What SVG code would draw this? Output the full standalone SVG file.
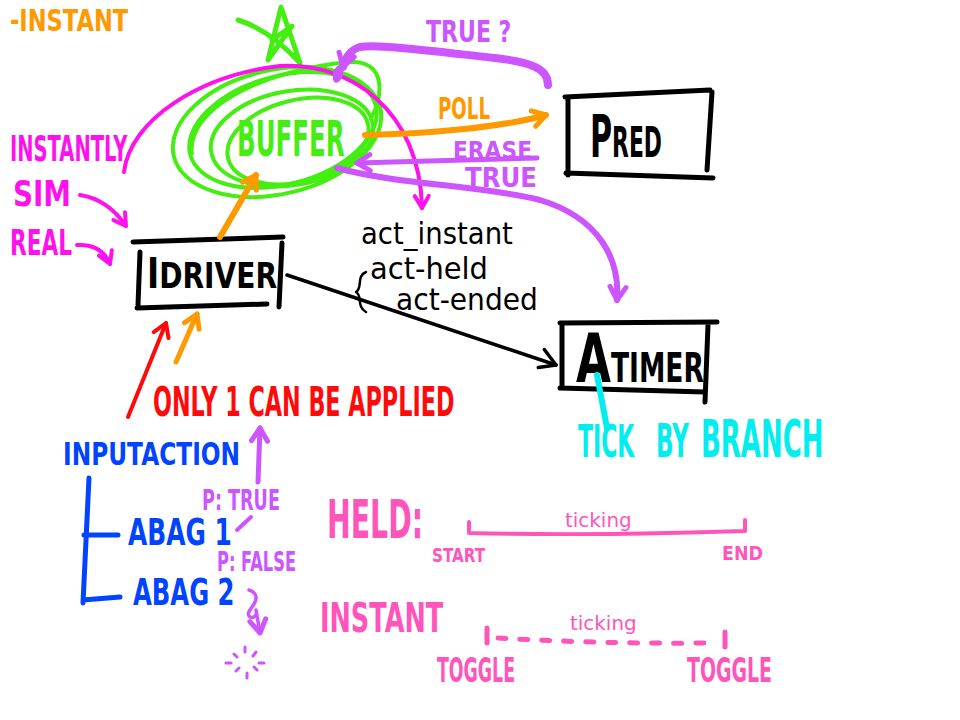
<svg xmlns="http://www.w3.org/2000/svg" width="960" height="720" viewBox="0 0 960 720">
<defs>
<style>
.h{font-family:"DejaVu Sans","Liberation Sans",sans-serif;font-weight:bold;}
.n{font-family:"DejaVu Sans","Liberation Sans",sans-serif;}
.s{fill:none;stroke-linecap:round;stroke-linejoin:round;}
.org{fill:#FF9900}.grn{fill:#44EE11}.mag{fill:#FF11EE}.pur{fill:#CC55FF}.red{fill:#FF0A0A}.blu{fill:#0044FF}.cya{fill:#00EEEE}.pnk{fill:#FF55BB}.blk{fill:#000}
.box{fill:none;stroke:#000;stroke-width:5;stroke-linecap:round}
.loop{fill:none;stroke:#44EE11;stroke-width:4}
</style>
<marker id="hO" viewBox="-16 -10 20 20" refX="0" refY="0" markerWidth="20" markerHeight="20" markerUnits="userSpaceOnUse" orient="auto" overflow="visible"><path d="M-13,-8 L0,0 L-13,8" fill="none" stroke="#FF9900" stroke-width="5" stroke-linecap="round" stroke-linejoin="round"/></marker>
<marker id="hP" viewBox="-16 -10 20 20" refX="0" refY="0" markerWidth="20" markerHeight="20" markerUnits="userSpaceOnUse" orient="auto" overflow="visible"><path d="M-13,-8 L0,0 L-13,8" fill="none" stroke="#CC55FF" stroke-width="5" stroke-linecap="round" stroke-linejoin="round"/></marker>
<marker id="hM" viewBox="-16 -10 20 20" refX="0" refY="0" markerWidth="20" markerHeight="20" markerUnits="userSpaceOnUse" orient="auto" overflow="visible"><path d="M-12,-7 L0,0 L-12,7" fill="none" stroke="#FF11EE" stroke-width="4" stroke-linecap="round" stroke-linejoin="round"/></marker>
<marker id="hR" viewBox="-16 -10 20 20" refX="0" refY="0" markerWidth="20" markerHeight="20" markerUnits="userSpaceOnUse" orient="auto" overflow="visible"><path d="M-13,-8 L0,0 L-13,8" fill="none" stroke="#FF0A0A" stroke-width="4" stroke-linecap="round" stroke-linejoin="round"/></marker>
<marker id="hK" viewBox="-16 -10 20 20" refX="0" refY="0" markerWidth="20" markerHeight="20" markerUnits="userSpaceOnUse" orient="auto" overflow="visible"><path d="M-16,-11 L0,0 L-16,8" fill="none" stroke="#000" stroke-width="3.5" stroke-linecap="round" stroke-linejoin="round"/></marker>
</defs>
<rect width="960" height="720" fill="#fff"/>

<g id="node-buffer">
<path class="s" d="M238,20 Q270,30 300,63 L281,7 L268,60 L292,26 L272,40" stroke="#44EE11" stroke-width="5"/>
<ellipse class="loop" cx="277" cy="132" rx="106" ry="62" transform="rotate(-13 277 132)"/>
<ellipse class="loop" cx="283" cy="130" rx="96" ry="54" transform="rotate(-15 283 130)"/>
<ellipse class="loop" cx="292" cy="138" rx="82" ry="47" transform="rotate(-10 292 138)"/>
<ellipse class="loop" cx="298" cy="141" rx="72" ry="41" transform="rotate(-14 298 141)"/>
<path class="loop" d="M192,155 C185,110 260,70 350,62 C385,60 385,95 370,120"/>
<text class="h grn" transform="translate(237,156) scale(0.49,1)" font-size="50">BUFFER</text>
</g>

<g id="node-pred">
<path class="box" d="M565,97 L710,90 M568,97 L568,175 M566,173 L713,178 M712,92 L707,170"/>
<text class="h blk" transform="translate(590,157) scale(0.52,1)" font-size="42"><tspan font-size="58">P</tspan>RED</text>
</g>

<g id="node-atimer">
<path class="box" d="M560,323 L717,322 M562,323 L562,388 M560,388 L705,392 M708,325 L705,402"/>
<text class="h blk" transform="translate(576,382) scale(0.664,1)" font-size="40"><tspan font-size="68">A</tspan>TIMER</text>
</g>

<g id="node-idriver">
<path class="box" d="M133,242 L283,237 M140,252 L138,305 M137,308 L267,304 M282,243 L279,307"/>
<text class="h blk" transform="translate(147,288) scale(0.78,1)" font-size="36"><tspan font-size="42">I</tspan>DRIVER</text>
</g>

<g id="node-inputaction">
<text class="h blu" transform="translate(63,465) scale(0.728,1)" font-size="32">INPUTACTION</text>
<path class="s" d="M89,478 L83,603 M84,535 L118,535 M83,600 L120,597" stroke="#0044FF" stroke-width="5"/>
<text class="h blu" transform="translate(128,545) scale(0.655,1)" font-size="38">ABAG 1</text>
<text class="h blu" transform="translate(133,605) scale(0.64,1)" font-size="38">ABAG 2</text>
<text class="h pur" transform="translate(202,510) scale(0.629,1)" font-size="28">P: TRUE</text>
<text class="h pur" transform="translate(217,571) scale(0.625,1)" font-size="26">P: FALSE</text>
</g>

<g id="connectors">
<path class="s" d="M124,172 C130,120 200,75 280,66 C350,62 420,110 422,208" stroke="#FF11EE" stroke-width="4" marker-end="url(#hM)"/>
<path class="s" d="M548,85 C548,68 530,62 495,58 C440,52 380,44 360,47 C350,50 346,57 343,67" stroke="#CC55FF" stroke-width="8" marker-end="url(#hP)"/>
<ellipse cx="338" cy="74" rx="5" ry="9" fill="#CC55FF" transform="rotate(15 338 74)"/>
<path class="s" d="M365,135 C420,134 500,128 546,115" stroke="#FF9900" stroke-width="6" marker-end="url(#hO)"/>
<path class="s" d="M537,158 L357,163" stroke="#CC55FF" stroke-width="5" marker-end="url(#hP)"/>
<path class="s" d="M337,168 C400,185 480,185 540,200 C600,218 620,260 617,300" stroke="#CC55FF" stroke-width="6" marker-end="url(#hP)"/>
<path class="s" d="M220,237 L256,175" stroke="#FF9900" stroke-width="6" marker-end="url(#hO)"/>
<path class="s" d="M80,195 C100,198 115,210 126,226" stroke="#FF11EE" stroke-width="4" marker-end="url(#hM)"/>
<path class="s" d="M77,245 C95,244 105,252 110,264" stroke="#FF11EE" stroke-width="4" marker-end="url(#hM)"/>
<path class="s" d="M287,275 L556,365" stroke="#000" stroke-width="3.5" marker-end="url(#hK)"/>
<path class="s" d="M128,417 L166,323" stroke="#FF0A0A" stroke-width="4" marker-end="url(#hR)"/>
<path class="s" d="M176,362 L197,314" stroke="#FF9900" stroke-width="5" marker-end="url(#hO)"/>
<path class="s" d="M597,375 L607,428" stroke="#00EEEE" stroke-width="6"/>
<path class="s" d="M258,482 L260,428" stroke="#CC55FF" stroke-width="5" marker-end="url(#hP)"/>
<path class="s" d="M237,530 L251,517" stroke="#CC55FF" stroke-width="4"/>
<path class="s" d="M249,590 C256,592 258,598 254,604 C250,610 246,614 250,617 C254,619 258,614 256,610 L260,633" stroke="#CC55FF" stroke-width="3.5" marker-end="url(#hP)"/>
<path class="s" d="M245,647 L245,652 M234,654 L237,657 M256,652 L253,656 M226,663 L231,663 M259,663 L264,663 M236,671 L239,668 M257,670 L254,667 M247,673 L247,678" stroke="#CC55FF" stroke-width="3"/>
<path class="s" d="M366,272 C356,276 363,288 356,292 C363,296 356,306 366,312" stroke="#000" stroke-width="2.5"/>
</g>

<g id="labels">
<text class="h org" transform="translate(10,31) scale(0.752,1)" font-size="30">-INSTANT</text>
<text class="h pur" transform="translate(426,42) scale(0.735,1)" font-size="30">TRUE ?</text>
<text class="h org" transform="translate(438,119) scale(0.607,1)" font-size="30">POLL</text>
<text class="h pur" transform="translate(453,159) scale(0.907,1)" font-size="24">ERASE</text>
<text class="h pur" transform="translate(465,187) scale(0.905,1)" font-size="27">TRUE</text>
<text class="h mag" transform="translate(10,161) scale(0.541,1)" font-size="36">INSTANTLY</text>
<text class="h mag" transform="translate(13,206) scale(0.772,1)" font-size="36">SIM</text>
<text class="h mag" transform="translate(10,255) scale(0.601,1)" font-size="36">REAL</text>
<text class="n blk" transform="translate(361,244) scale(0.918,1)" font-size="30">act_instant</text>
<text class="n blk" transform="translate(370,279) scale(0.965,1)" font-size="30">act-held</text>
<text class="n blk" transform="translate(396,310) scale(0.937,1)" font-size="30">act-ended</text>
<text class="h red" transform="translate(153,416) scale(0.557,1)" font-size="40">ONLY 1 CAN BE APPLIED</text>
<text class="h cya" transform="translate(578,457) scale(0.5,1)"><tspan x="0" font-size="44">TICK</tspan><tspan x="156" font-size="46">BY</tspan><tspan x="246" font-size="52">BRANCH</tspan></text>
</g>

<g id="timeline-held">
<text class="h pnk" transform="translate(327,538) scale(0.525,1)" font-size="54">HELD:</text>
<text class="n pnk" transform="translate(565,527) scale(1.05,1)" font-size="19">ticking</text>
<path class="s" d="M469,522 L469,533 Q600,536 745,531 L745,520" stroke="#FF55BB" stroke-width="4"/>
<text class="h pnk" transform="translate(432,562) scale(0.758,1)" font-size="20">START</text>
<text class="h pnk" transform="translate(722,560) scale(0.917,1)" font-size="19">END</text>
</g>

<g id="timeline-instant">
<text class="h pnk" transform="translate(320,632) scale(0.638,1)" font-size="40">INSTANT</text>
<text class="n pnk" transform="translate(570,630) scale(1.05,1)" font-size="19">ticking</text>
<path class="s" d="M487,628 L487,643 M725,632 L725,647" stroke="#FF55BB" stroke-width="5"/>
<path class="s" d="M498,638 Q600,644 707,643" stroke="#FF55BB" stroke-width="5" stroke-dasharray="8 14"/>
<text class="h pnk" transform="translate(437,682) scale(0.526,1)" font-size="33">TOGGLE</text>
<text class="h pnk" transform="translate(687,682) scale(0.573,1)" font-size="33">TOGGLE</text>
</g>
</svg>
